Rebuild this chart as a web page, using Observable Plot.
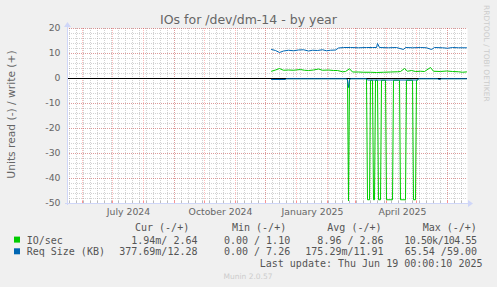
<!DOCTYPE html>
<html>
<head>
<meta charset="utf-8">
<script src="https://cdn.jsdelivr.net/npm/d3@7"></script>
<script src="https://cdn.jsdelivr.net/npm/@observablehq/plot@0.6"></script>
<style>
html, body { margin: 0; padding: 0; background: #F0F0F0; }
svg { display: block; }
</style>
</head>
<body>
<div id="chart"></div>
<script>
// ---------- texts ----------
const title = "IOs for /dev/dm-14 - by year";
const yAxisLabel = "Units read (-) / write (+)";
const watermark = "RRDTOOL / TOBI OETIKER";
const footer = "Munin 2.0.57";
const lastUpdate = "Last update: Thu Jun 19 00:00:10 2025";

// ---------- axes ----------
const timeDomain = ["2024-05-17", "2025-06-21"];
const yDomain = [-50, 20];
const yTicks = [-50, -40, -30, -20, -10, 0, 10, 20];
const xTickDates = ["2024-07-17", "2024-10-17", "2025-01-17", "2025-04-17"];
const xTickLabels = ["July 2024", "October 2024", "January 2025", "April 2025"];

// ---------- legend ----------
const seriesNames = ["IO/sec", "Req Size (KB)"];
const seriesColors = ["#00CC00", "#0066B3"];
const legendHeaders = ["Cur (-/+)", "Min (-/+)", "Avg (-/+)", "Max (-/+)"];
const curValues = ["1.94m/ 2.64", "377.69m/12.28"];
const minValues = ["0.00 / 1.10", "0.00 / 7.26"];
const avgValues = ["8.96 / 2.86", "175.29m/11.91"];
const maxValues = ["10.50k/104.55", "65.54 /59.00"];

// ---------- data (read values drawn below zero) ----------
const ioWrite = [
  ["2024-12-07", 2.9], ["2024-12-11", 3.4], ["2024-12-15", 4.0], ["2024-12-19", 3.3],
  ["2024-12-24", 3.4], ["2024-12-29", 3.3], ["2025-01-05", 3.6], ["2025-01-09", 3.3],
  ["2025-01-13", 3.2], ["2025-01-18", 3.4], ["2025-01-23", 3.8], ["2025-01-27", 3.3],
  ["2025-02-02", 3.4], ["2025-02-07", 3.2], ["2025-02-11", 3.2], ["2025-02-16", 2.7],
  ["2025-02-19", 2.8], ["2025-02-23", 3.9], ["2025-02-26", 2.6], ["2025-03-04", 2.6],
  ["2025-03-09", 2.5], ["2025-03-16", 2.5], ["2025-03-22", 2.4], ["2025-03-29", 2.5],
  ["2025-04-05", 2.6], ["2025-04-12", 2.7], ["2025-04-15", 2.8], ["2025-04-19", 4.0],
  ["2025-04-22", 2.9], ["2025-04-26", 3.2], ["2025-04-30", 2.8], ["2025-05-05", 2.9],
  ["2025-05-09", 2.8], ["2025-05-15", 4.4], ["2025-05-18", 2.9], ["2025-05-25", 2.8],
  ["2025-05-31", 3.0], ["2025-06-06", 2.8], ["2025-06-12", 2.7], ["2025-06-16", 2.5],
  ["2025-06-20", 2.64]
];
const ioRead = [
  ["2024-12-07", 0.05], ["2025-02-21", 0.05], ["2025-02-22", 49], ["2025-02-23", 0.05],
  ["2025-03-12", 0.05], ["2025-03-13", 48.5], ["2025-03-15", 48.5], ["2025-03-16", 0.7],
  ["2025-03-18", 0.7], ["2025-03-19", 48.5], ["2025-03-20", 48.5], ["2025-03-21", 0.7],
  ["2025-03-23", 0.7], ["2025-03-24", 48.5], ["2025-03-26", 48.5], ["2025-03-27", 0.7],
  ["2025-03-31", 0.7], ["2025-04-01", 48.5], ["2025-04-07", 48.5], ["2025-04-08", 0.7],
  ["2025-04-14", 0.7], ["2025-04-15", 48.5], ["2025-04-20", 48.5], ["2025-04-21", 0.7],
  ["2025-04-27", 0.7], ["2025-04-28", 48.5], ["2025-04-30", 48.5], ["2025-05-01", 0.7],
  ["2025-05-02", 0.7], ["2025-05-03", 0.05], ["2025-06-20", 0.05]
];
const reqWrite = [
  ["2024-12-07", 11.6], ["2024-12-11", 11.2], ["2024-12-15", 10.4], ["2024-12-19", 11.0],
  ["2024-12-24", 11.3], ["2024-12-29", 11.1], ["2025-01-03", 11.4], ["2025-01-08", 11.5],
  ["2025-01-13", 11.0], ["2025-01-17", 11.3], ["2025-01-22", 11.2], ["2025-01-27", 11.5],
  ["2025-01-31", 11.1], ["2025-02-04", 11.3], ["2025-02-09", 11.4], ["2025-02-12", 12.2],
  ["2025-02-17", 12.4], ["2025-02-24", 12.4], ["2025-03-04", 12.3], ["2025-03-12", 12.4],
  ["2025-03-18", 12.4], ["2025-03-22", 12.4], ["2025-03-23", 14.0], ["2025-03-25", 12.4],
  ["2025-04-03", 12.3], ["2025-04-11", 12.4], ["2025-04-18", 11.6], ["2025-04-20", 12.4],
  ["2025-04-27", 12.3], ["2025-05-05", 12.4], ["2025-05-11", 12.3], ["2025-05-16", 11.6],
  ["2025-05-19", 12.4], ["2025-05-27", 12.3], ["2025-06-01", 12.1], ["2025-06-06", 12.4],
  ["2025-06-12", 12.3], ["2025-06-20", 12.28]
];
const reqRead = [
  ["2024-12-07", 0.4], ["2024-12-21", 0.4], ["2024-12-22", 0.1], ["2025-02-20", 0.1],
  ["2025-02-21", 0.6], ["2025-02-22", 3.6], ["2025-02-23", 0.6], ["2025-02-24", 0.1],
  ["2025-03-12", 0.1], ["2025-03-13", 0.6], ["2025-05-02", 0.6], ["2025-05-03", 0.1],
  ["2025-05-22", 0.1], ["2025-05-23", 0.4], ["2025-05-25", 0.4], ["2025-05-26", 0.1],
  ["2025-06-20", 0.1]
];

// ---------- build ----------
const parse = d3.utcParse("%Y-%m-%d");
const rows = arr => arr.map(([d, v]) => ({date: parse(d), value: v}));
const [t0, t1] = timeDomain.map(parse);
const weekLines = d3.utcSunday.range(t0, t1);
const monthLines = d3.utcMonth.range(t0, t1);
const yMinor = d3.range(yDomain[0], yDomain[1] + 1, 2);
const labelByTime = new Map(xTickDates.map((d, i) => [+parse(d), xTickLabels[i]]));

const chart = Plot.plot({
  width: 497, height: 287,
  marginLeft: 67, marginRight: 30, marginTop: 28, marginBottom: 84,
  style: {background: "#F0F0F0", fontFamily: "DejaVu Sans", color: "#666666", overflow: "visible"},
  x: {type: "utc", domain: [t0, t1]},
  y: {domain: yDomain},
  marks: [
    Plot.frame({fill: "#FFFFFF", stroke: "none"}),
    Plot.ruleX(weekLines, {stroke: "#8F8F8F", strokeOpacity: 0.4, strokeDasharray: "1,1"}),
    Plot.ruleY(yMinor, {stroke: "#8F8F8F", strokeOpacity: 0.4, strokeDasharray: "1,1"}),
    Plot.ruleX(monthLines, {stroke: "#FF0000", strokeOpacity: 0.26, strokeDasharray: "1,1"}),
    Plot.ruleY(yTicks, {stroke: "#FF0000", strokeOpacity: 0.26, strokeDasharray: "1,1"}),
    Plot.ruleX(weekLines, {y1: yDomain[0], y2: yDomain[0] + 0.8, stroke: "#BBBBBB"}),
    Plot.ruleX(monthLines, {y1: yDomain[0], y2: yDomain[0] + 0.8, stroke: "#FF9090"}),
    Plot.line(rows(ioWrite), {x: "date", y: "value", stroke: seriesColors[0], strokeWidth: 1}),
    Plot.line(rows(ioRead), {x: "date", y: d => -d.value, stroke: seriesColors[0], strokeWidth: 1}),
    Plot.line(rows(reqWrite), {x: "date", y: "value", stroke: seriesColors[1], strokeWidth: 1}),
    Plot.ruleY([0], {stroke: "#000000", strokeWidth: 1}),
    Plot.line(rows(reqRead), {x: "date", y: d => -d.value, stroke: seriesColors[1], strokeWidth: 1}),
    Plot.axisX({ticks: xTickDates.map(parse), tickFormat: d => labelByTime.get(+d), tickSize: 0, tickPadding: 5, fontSize: 9.3, label: null}),
    Plot.axisY({ticks: yTicks, tickSize: 0, tickPadding: 7, tickFormat: d => String(d), fontSize: 9.3, label: null})
  ]
});
document.getElementById("chart").appendChild(chart);

const svg = d3.select(chart);
const sx = chart.scale("x"), sy = chart.scale("y");
const pxLeft = sx.apply(t0), pxRight = sx.apply(t1);
const pxBottom = sy.apply(yDomain[0]), pxTop = sy.apply(yDomain[1]);
const axisColor = "#CFD6F8";

// axis lines + arrows
svg.append("line").attr("x1", pxLeft - 2).attr("x2", pxRight + 2).attr("y1", pxBottom + 0.5).attr("y2", pxBottom + 0.5)
  .attr("stroke", axisColor).attr("stroke-width", 1);
svg.append("path").attr("d", `M${pxRight + 1},${pxBottom - 3} L${pxRight + 6},${pxBottom + 0.5} L${pxRight + 1},${pxBottom + 4} Z`).attr("fill", axisColor);
svg.append("line").attr("x1", pxLeft + 0.5).attr("x2", pxLeft + 0.5).attr("y1", pxBottom + 2).attr("y2", pxTop - 2)
  .attr("stroke", axisColor).attr("stroke-width", 1);
svg.append("path").attr("d", `M${pxLeft - 3},${pxTop - 1} L${pxLeft + 0.5},${pxTop - 6} L${pxLeft + 4},${pxTop - 1} Z`).attr("fill", axisColor);

// title
svg.append("text").attr("x", 248.5).attr("y", 24).attr("text-anchor", "middle")
  .attr("font-family", "DejaVu Sans").attr("font-size", 12.5).attr("fill", "#666666").text(title);
// y label
svg.append("text").attr("transform", "translate(14.5,114.5) rotate(-90)").attr("text-anchor", "middle")
  .attr("font-family", "DejaVu Sans").attr("font-size", 10.7).attr("fill", "#666666").text(yAxisLabel);
// watermark
svg.append("text").attr("transform", "translate(484,5) rotate(90)").attr("text-anchor", "start")
  .attr("font-family", "DejaVu Sans").attr("font-size", 7.5).attr("fill", "#CCCCCC").text(watermark);
// footer
svg.append("text").attr("x", 248).attr("y", 278.7).attr("text-anchor", "middle")
  .attr("font-family", "DejaVu Sans").attr("font-size", 7.5).attr("fill", "#CCCCCC").text(footer);

// legend
const mono = (t, anchor) => t.attr("font-family", "DejaVu Sans Mono").attr("font-size", 10)
  .attr("fill", "#555555").attr("text-anchor", anchor);
const headerX = [135, 232, 327.3, 422.7];
legendHeaders.forEach((h, i) => mono(svg.append("text"), "start").attr("x", headerX[i]).attr("y", 231).text(h));
const rowY = [243.6, 255.3];
const colEnd = [197.5, 290.2, 383.6, 477];
const maxColStart = 404.3;
seriesNames.forEach((name, i) => {
  svg.append("rect").attr("x", 14).attr("y", rowY[i] - 7).attr("width", 6).attr("height", 6).attr("fill", seriesColors[i]);
  mono(svg.append("text"), "start").attr("x", 26.7).attr("y", rowY[i]).text(name);
  [curValues, minValues, avgValues].forEach((vals, c) => {
    mono(svg.append("text"), "end").attr("x", colEnd[c]).attr("y", rowY[i]).text(vals[i]);
  });
  const mv = maxValues[i];
  const t = mono(svg.append("text"), "end").attr("x", colEnd[3]).attr("y", rowY[i]).text(mv);
  if (mv.length > 12) {
    // the original squeezes this value into the space of 12 characters
    t.attr("text-anchor", "start").attr("x", maxColStart)
      .attr("textLength", colEnd[3] - maxColStart).attr("lengthAdjust", "spacing");
  }
});
mono(svg.append("text"), "end").attr("x", 482.5).attr("y", 267).text(lastUpdate);
</script>
</body>
</html>
